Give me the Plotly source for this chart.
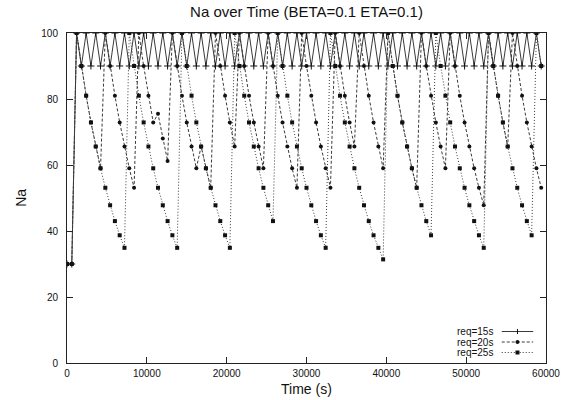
import plotly.graph_objects as go

# sampling grid (s)
time_s = list(range(0, 60000, 600))

req15 = [30, 30,
         100, 90, 100, 90, 100, 90, 100, 90, 100, 90,
         100, 90, 100, 90, 100, 90, 100, 90, 100, 90,
         100, 90, 100, 90, 100, 90, 100, 90, 100, 90,
         100, 90, 100, 90, 100, 90, 100, 90, 100, 90,
         100, 90, 100, 90, 100, 90, 100, 90, 100, 90,
         100, 90, 100, 90, 100, 90, 100, 90, 100, 90,
         100, 90, 100, 90, 100, 90, 100, 90, 100, 90,
         100, 90, 100, 90, 100, 90, 100, 90, 100, 90,
         100, 90, 100, 90, 100, 90, 100, 90, 100, 90,
         100, 90, 100, 90, 100, 90, 100, 90]

req20 = [30, 30, 100, 90, 81, 72.9, 65.6, 59, 100, 90,
         81, 72.9, 65.6, 59, 53.1, 100, 90, 81, 72.9, 75.5,
         68, 61.2, 100, 90, 81, 72.9, 65.6, 59, 65.6, 59,
         53.1, 100, 90, 81, 72.9, 65.6, 100, 90, 81, 72.9,
         65.6, 59, 100, 90, 81, 72.9, 65.6, 59, 53.1, 100,
         90, 81, 72.9, 65.6, 59, 53.1, 100, 90, 81, 72.9,
         65.6, 100, 90, 81, 72.9, 65.6, 59, 100, 90, 81,
         72.9, 65.6, 59, 53.1, 100, 90, 81, 72.9, 65.6, 59,
         100, 90, 81, 72.9, 65.6, 59, 53.1, 47.8, 100, 90,
         81, 72.9, 65.6, 100, 90, 81, 72.9, 65.6, 59, 53.1]

req25 = [30, 30, 100, 90, 81, 72.9, 65.6, 59, 53.1, 47.8,
         43, 38.7, 34.9, 100, 90, 81, 72.9, 65.6, 59, 53.1,
         47.8, 43, 38.7, 34.9, 100, 90, 81, 72.9, 65.6, 59,
         53.1, 47.8, 43, 38.7, 34.9, 100, 90, 81, 72.9, 65.6,
         59, 53.1, 47.8, 43, 100, 90, 81, 72.9, 65.6, 59,
         53.1, 47.8, 43, 38.7, 34.9, 100, 90, 81, 72.9, 65.6,
         59, 53.1, 47.8, 43, 38.7, 34.9, 31.4, 100, 90, 81,
         72.9, 65.6, 59, 53.1, 47.8, 43, 38.7, 100, 90, 81,
         72.9, 65.6, 59, 53.1, 47.8, 43, 38.7, 34.9, 100, 90,
         81, 72.9, 65.6, 59, 53.1, 47.8, 43, 38.7, 100, 90]

series_names = ["req=15s", "req=20s", "req=25s"]
x_ticks = [0, 10000, 20000, 30000, 40000, 50000, 60000]
y_ticks = [0, 20, 40, 60, 80, 100]

FONT = "Liberation Sans, Arial, Helvetica, sans-serif"
LINE_C = "#3a3a3a"
MARK_C = "#111111"

fig = go.Figure()
fig.add_trace(go.Scatter(
    x=time_s, y=req15, mode="lines+markers", name=series_names[0],
    line=dict(color=LINE_C, width=1, dash="solid"),
    marker=dict(symbol="cross-thin", size=5, color=MARK_C,
                line=dict(color=MARK_C, width=1)),
    showlegend=False))
fig.add_trace(go.Scatter(
    x=time_s, y=req20, mode="lines+markers", name=series_names[1],
    line=dict(color=LINE_C, width=1, dash="3px,2px"),
    marker=dict(symbol="circle", size=4, color=MARK_C),
    showlegend=False))
fig.add_trace(go.Scatter(
    x=time_s, y=req25, mode="lines+markers", name=series_names[2],
    line=dict(color=LINE_C, width=1, dash="1px,2px"),
    marker=dict(symbol="square", size=4, color=MARK_C),
    showlegend=False))

L, R, T, B = 67, 18, 33, 37
W, H = 572, 400
pw, ph = W - L - R, H - T - B

def px_x(px):
    return (px - L) / pw

def px_y(py):
    return (H - B - py) / ph

shapes = []
annotations = []
# manual gnuplot-style key: text, then line sample with marker
rows = [331.5, 342, 352.5]
dashes = ["solid", "3px,2px", "1px,2px"]
for i, name in enumerate(series_names):
    yy = px_y(rows[i])
    annotations.append(dict(
        text=name, xref="paper", yref="paper", x=px_x(502), y=yy,
        xanchor="right", yanchor="middle", showarrow=False,
        font=dict(family=FONT, size=10, color="#111")))
    shapes.append(dict(type="line", xref="paper", yref="paper",
                       x0=px_x(509), x1=px_x(541), y0=yy, y1=yy,
                       line=dict(color=LINE_C, width=1, dash=dashes[i])))
    mx = px_x(525)
    if i == 0:
        shapes.append(dict(type="line", xref="paper", yref="paper",
                           xsizemode="pixel", ysizemode="pixel",
                           xanchor=mx, yanchor=yy, x0=0, x1=0, y0=-2.5, y1=2.5,
                           line=dict(color=MARK_C, width=1)))
    elif i == 1:
        shapes.append(dict(type="circle", xref="paper", yref="paper",
                           xsizemode="pixel", ysizemode="pixel",
                           xanchor=mx, yanchor=yy, x0=-2, x1=2, y0=-2, y1=2,
                           fillcolor=MARK_C, line=dict(width=0)))
    else:
        shapes.append(dict(type="rect", xref="paper", yref="paper",
                           xsizemode="pixel", ysizemode="pixel",
                           xanchor=mx, yanchor=yy, x0=-2, x1=2, y0=-2, y1=2,
                           fillcolor=MARK_C, line=dict(width=0)))

annotations.append(dict(text="Time (s)", xref="paper", yref="paper",
                        x=0.5, y=px_y(389), xanchor="center", yanchor="middle",
                        showarrow=False, font=dict(family=FONT, size=14, color="#111")))
annotations.append(dict(text="Na", xref="paper", yref="paper",
                        x=px_x(20), y=0.5, xanchor="center", yanchor="middle",
                        textangle=-90, showarrow=False,
                        font=dict(family=FONT, size=14, color="#111")))

axis_common = dict(showgrid=False, zeroline=False, showline=True,
                   linecolor="#222", linewidth=1, mirror="ticks",
                   ticks="inside", ticklen=6, tickcolor="#222", tickwidth=1,
                   tickfont=dict(family=FONT, size=10, color="#111"))

fig.update_layout(
    width=W, height=H,
    margin=dict(l=L, r=R, t=T, b=B, pad=0),
    paper_bgcolor="white", plot_bgcolor="white",
    title=dict(text="Na over Time (BETA=0.1 ETA=0.1)", x=px_x(310.5), xref="paper",
               xanchor="center",
               y=1 - 12 / H, yanchor="middle", yref="container",
               font=dict(family=FONT, size=15, color="#111")),
    xaxis=dict(range=[0, 60000], tickvals=x_ticks,
               ticktext=[str(v) for v in x_ticks], ticklabelstandoff=1,
               **axis_common),
    yaxis=dict(range=[0, 100], tickvals=y_ticks,
               ticktext=[str(v) for v in y_ticks], ticklabelstandoff=6,
               **axis_common),
    shapes=shapes, annotations=annotations,
)

fig.write_html("out.html")
